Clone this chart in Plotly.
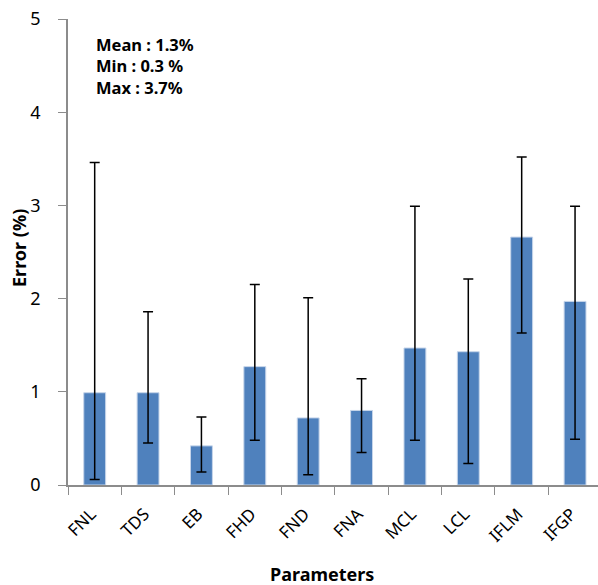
import plotly.graph_objects as go

categories = ["FNL", "TDS", "EB", "FHD", "FND", "FNA", "MCL", "LCL", "IFLM", "IFGP"]
errors = [0.99, 0.99, 0.42, 1.27, 0.72, 0.80, 1.47, 1.43, 2.66, 1.97]
upper = [3.46, 1.86, 0.73, 2.15, 2.01, 1.14, 2.99, 2.21, 3.52, 2.99]
lower = [0.06, 0.45, 0.14, 0.48, 0.11, 0.35, 0.48, 0.23, 1.63, 0.49]
y_ticks = [0, 1, 2, 3, 4, 5]
stats_text = ["Mean : 1.3%", "Min : 0.3 %", "Max : 3.7%"]

plus = [u - v for u, v in zip(upper, errors)]
minus = [v - l for v, l in zip(errors, lower)]

FONT = "Noto Sans"
W, H = 598, 585
L, T, B, R = 68, 19, H - 485, 0
PW = W - L - R
PH = H - T - B


def px(xp):
    return (xp - L) / PW


def py(yp):
    return 1 - (yp - T) / PH


fig = go.Figure()
fig.add_trace(go.Bar(
    x=categories, y=errors,
    width=0.41,
    marker=dict(color="#4F81BD", line=dict(color="#C6D5EA", width=1)),
    error_y=dict(type="data", symmetric=False, array=plus, arrayminus=minus,
                 color="black", thickness=1.5, width=5),
))
fig.add_trace(go.Scatter(x=[0, 9], y=[None, None], xaxis="x2", yaxis="y",
                         mode="markers", showlegend=False, hoverinfo="skip"))

shift = 0.07
fig.update_layout(
    width=W, height=H,
    margin=dict(l=L, r=R, t=T, b=B, autoexpand=False),
    plot_bgcolor="white", paper_bgcolor="white",
    showlegend=False,
    font=dict(family=FONT, color="black"),
    xaxis=dict(
        range=[-0.5, 9.43], automargin=False,
        showline=True, linecolor="#8C8C8C", linewidth=1.5,
        ticks="outside", ticklen=8, tickcolor="#8C8C8C",
        tickmode="array", tickvals=[i - 0.5 for i in range(11)], ticktext=[""] * 11,
        showgrid=False, zeroline=False,
    ),
    xaxis2=dict(
        overlaying="x", anchor="y", automargin=False,
        range=[-0.5 + shift, 9.43 + shift],
        tickmode="array", tickvals=list(range(10)), ticktext=categories,
        tickangle=-45, tickfont=dict(size=17, family=FONT),
        ticklabelstandoff=15, ticklabeloverflow="allow",
        ticks="", showline=False, showgrid=False, zeroline=False, side="bottom",
    ),
    yaxis=dict(
        range=[0, 5], tickvals=y_ticks, automargin=False,
        showline=True, linecolor="#8C8C8C", linewidth=1.5,
        ticks="outside", ticklen=8, tickcolor="#8C8C8C",
        tickfont=dict(size=18, family=FONT),
        ticklabelstandoff=14, ticklabeloverflow="allow",
        showgrid=False, zeroline=False,
    ),
)

fig.add_annotation(
    text="<br>".join("<b>%s</b>" % s for s in stats_text),
    xref="paper", yref="paper", x=px(94), y=py(31),
    xanchor="left", yanchor="top", align="left", showarrow=False,
    font=dict(size=16.5, family=FONT, color="black"),
)
fig.add_annotation(
    text="<b>Error (%)</b>", textangle=-90,
    xref="paper", yref="paper", x=px(19), y=py(248),
    xanchor="center", yanchor="middle", showarrow=False,
    font=dict(size=18, family=FONT, color="black"),
)
fig.add_annotation(
    text="<b>Parameters</b>",
    xref="paper", yref="paper", x=px(322), y=py(574),
    xanchor="center", yanchor="middle", showarrow=False,
    font=dict(size=18, family=FONT, color="black"),
)

fig.write_html("out.html", config={"displayModeBar": False},
               post_script="document.body.style.margin='0';")
